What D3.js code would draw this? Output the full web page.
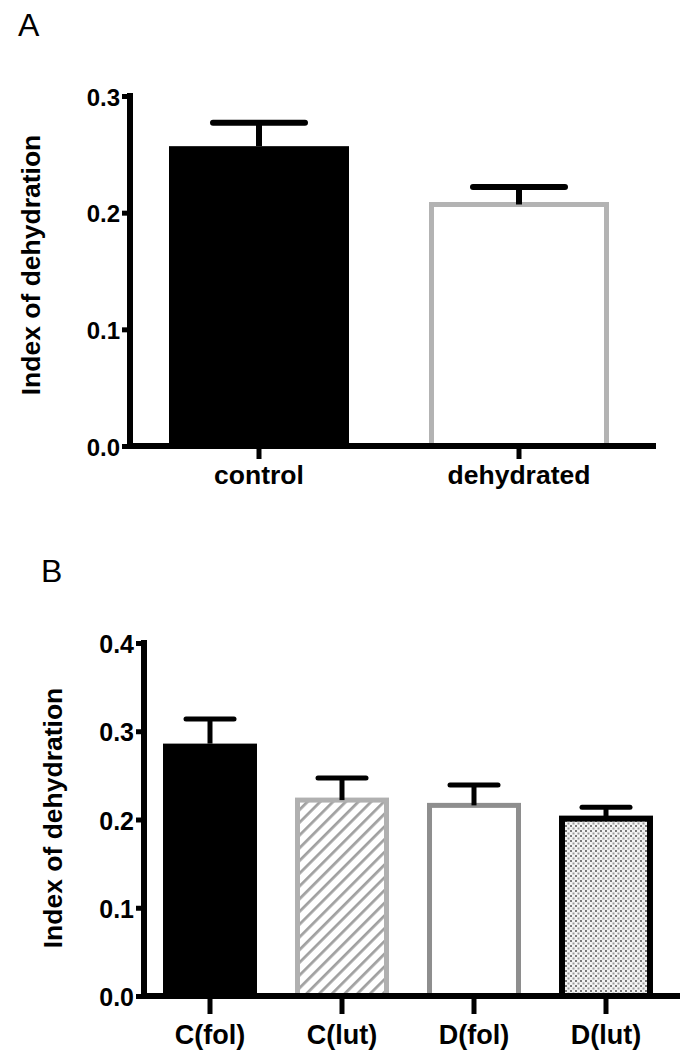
<!DOCTYPE html>
<html>
<head>
<meta charset="utf-8">
<script src="https://cdn.jsdelivr.net/npm/d3@7"></script>
<style>
  body { margin: 0; background: #fff; }
  text { font-family: "Liberation Sans", Arial, sans-serif; }
</style>
</head>
<body>
<div id="chart"></div>
<script>
// panel A data
const catsA = ['control', 'dehydrated'];
const meanA = [0.257, 0.207];
const semA = [0.020, 0.015];
const ticksA = [0.0, 0.1, 0.2, 0.3];

// panel B data
const catsB = ['C(fol)', 'C(lut)', 'D(fol)', 'D(lut)'];
const meanB = [0.286, 0.222, 0.216, 0.201];
const semB = [0.028, 0.025, 0.023, 0.013];
const ticksB = [0.0, 0.1, 0.2, 0.3, 0.4];

const W = 680, H = 1050;

const svg = d3.select('#chart')
    .append('svg')
    .attr('width', W)
    .attr('height', H);

// patterns for panel B
const defs = svg.append('defs');
const hatch = defs.append('pattern')
    .attr('id', 'hatch')
    .attr('patternUnits', 'userSpaceOnUse')
    .attr('width', 9).attr('height', 9)
    .attr('patternTransform', 'rotate(45)');
hatch.append('rect').attr('width', 9).attr('height', 9).attr('fill', '#fff');
hatch.append('line')
    .attr('x1', 0).attr('y1', 0).attr('x2', 0).attr('y2', 9)
    .attr('stroke', '#a0a0a0').attr('stroke-width', 5.5);

const dots = defs.append('pattern')
    .attr('id', 'dots')
    .attr('patternUnits', 'userSpaceOnUse')
    .attr('width', 5).attr('height', 5);
dots.append('rect').attr('width', 5).attr('height', 5).attr('fill', '#f4f4f4');
dots.append('rect').attr('x', 0).attr('y', 0).attr('width', 2).attr('height', 2).attr('fill', '#7a7a7a');
dots.append('rect').attr('x', 2.5).attr('y', 2.5).attr('width', 2).attr('height', 2).attr('fill', '#9a9a9a');

function drawPanel(opt) {
    const g = svg.append('g');

    const x = d3.scaleBand()
        .domain(opt.cats)
        .range([opt.left, opt.right])
        .paddingInner(opt.padIn)
        .paddingOuter(opt.padOut);

    const y = d3.scaleLinear()
        .domain([0, opt.ymax])
        .range([opt.bottom, opt.top]);

    // panel letter
    g.append('text')
        .attr('x', opt.letterX).attr('y', opt.letterY)
        .attr('font-size', 32)
        .text(opt.letter);

    // bars
    opt.cats.forEach((c, i) => {
        const st = opt.styles[i];
        const sw = st.sw;
        g.append('rect')
            .attr('x', x(c) + sw / 2)
            .attr('y', y(opt.mean[i]))
            .attr('width', x.bandwidth() - sw)
            .attr('height', y(0) - y(opt.mean[i]))
            .attr('fill', st.fill)
            .attr('stroke', st.stroke)
            .attr('stroke-width', sw);
    });

    // error bars (upper only)
    opt.cats.forEach((c, i) => {
        const cx = x(c) + x.bandwidth() / 2;
        const top = y(opt.mean[i] + opt.sem[i]);
        g.append('line')
            .attr('x1', cx).attr('x2', cx)
            .attr('y1', y(opt.mean[i])).attr('y2', top)
            .attr('stroke', '#000').attr('stroke-width', opt.ew);
        g.append('line')
            .attr('x1', cx - opt.capW / 2).attr('x2', cx + opt.capW / 2)
            .attr('y1', top).attr('y2', top)
            .attr('stroke', '#000').attr('stroke-width', opt.ew)
            .attr('stroke-linecap', 'round');
    });

    // y axis
    const yAxis = d3.axisLeft(y)
        .tickValues(opt.ticks)
        .tickFormat(d3.format('.1f'))
        .tickSize(opt.tickLen)
        .tickPadding(2);
    const ya = g.append('g')
        .attr('transform', `translate(${opt.left},0)`)
        .call(yAxis);
    ya.select('.domain').remove();
    ya.selectAll('.tick line').attr('stroke', '#000').attr('stroke-width', 5);
    ya.selectAll('.tick text')
        .attr('font-size', opt.tickFont)
        .attr('font-weight', 'bold')
        .attr('font-family', '"Liberation Sans", Arial, sans-serif')
        .attr('fill', '#000')
        .attr('dy', '0.38em');
    g.append('line')
        .attr('x1', opt.left).attr('x2', opt.left)
        .attr('y1', opt.top - 3).attr('y2', opt.bottom + 3)
        .attr('stroke', '#000').attr('stroke-width', 6);

    // x axis
    const xAxis = d3.axisBottom(x)
        .tickSize(opt.xTickLen)
        .tickPadding(opt.xPad);
    const xa = g.append('g')
        .attr('transform', `translate(0,${opt.bottom})`)
        .call(xAxis);
    xa.select('.domain').remove();
    xa.selectAll('.tick line').attr('stroke', '#000').attr('stroke-width', 5);
    xa.selectAll('.tick text')
        .attr('font-size', opt.xFont)
        .attr('font-weight', 'bold')
        .attr('font-family', '"Liberation Sans", Arial, sans-serif')
        .attr('fill', '#000');
    g.append('line')
        .attr('x1', opt.left - 3).attr('x2', opt.axisEnd)
        .attr('y1', opt.bottom).attr('y2', opt.bottom)
        .attr('stroke', '#000').attr('stroke-width', 6);

    // y label
    g.append('text')
        .attr('transform', `translate(${opt.labX},${opt.labY}) rotate(-90)`)
        .attr('text-anchor', 'middle')
        .attr('font-size', opt.labFont)
        .attr('font-weight', 'bold')
        .text('Index of dehydration');
}

drawPanel({
    letter: 'A', letterX: 18, letterY: 36,
    cats: catsA, mean: meanA, sem: semA, ticks: ticksA, ymax: 0.3,
    left: 130, right: 648, axisEnd: 656, top: 96, bottom: 446,
    padIn: 0.3077, padOut: 0.15,
    styles: [
        { fill: '#000', stroke: 'none', sw: 0 },
        { fill: '#fff', stroke: '#b3b3b3', sw: 5 }
    ],
    ew: 6, capW: 92,
    tickLen: 8, tickFont: 24, xTickLen: 13, xPad: 6, xFont: 26.5,
    labX: 40, labY: 265, labFont: 26.5
});

drawPanel({
    letter: 'B', letterX: 41, letterY: 582,
    cats: catsB, mean: meanB, sem: semB, ticks: ticksB, ymax: 0.4,
    left: 144, right: 672, axisEnd: 680, top: 643, bottom: 996,
    padIn: 0.288, padOut: 0.144,
    styles: [
        { fill: '#000', stroke: 'none', sw: 0 },
        { fill: 'url(#hatch)', stroke: '#b0b0b0', sw: 5 },
        { fill: '#fff', stroke: '#8e8e8e', sw: 5 },
        { fill: 'url(#dots)', stroke: '#000', sw: 6 }
    ],
    ew: 5, capW: 48,
    tickLen: 8, tickFont: 25, xTickLen: 18, xPad: 11, xFont: 27,
    labX: 62, labY: 818, labFont: 26.5
});
</script>
</body>
</html>
